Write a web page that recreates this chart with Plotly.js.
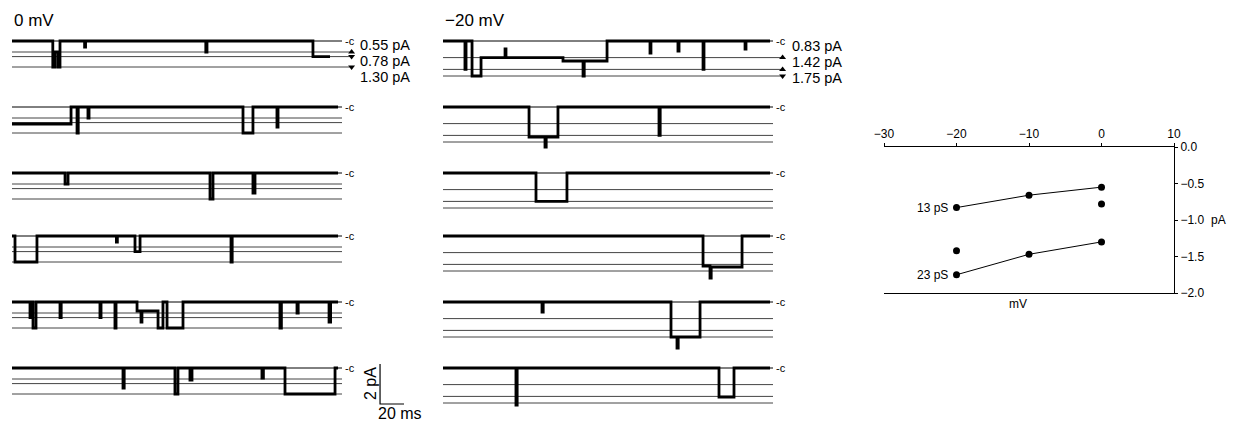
<!DOCTYPE html>
<html><head><meta charset="utf-8">
<script src="https://cdn.plot.ly/plotly-3.0.1.min.js"></script>
<style>html,body{margin:0;padding:0;background:#fff}#chart{width:1237px;height:421px}</style>
</head><body><div id="chart"></div>
<script>
// ---------------- data ----------------
// sub-conductance levels (pA) quoted on the figure
const levels0mV  = [0.55, 0.78, 1.30];
const levels20mV = [0.83, 1.42, 1.75];
const levelLabels0mV  = ['0.55 pA', '0.78 pA', '1.30 pA'];
const levelLabels20mV = ['0.83 pA', '1.42 pA', '1.75 pA'];

// idealised single-channel records: [time ms, current pA] steps (0 = closed)
const rec0mV_1 = [[0,0],[34,-1.30],[35.8,-0.55],[38.3,-1.30],[40,0],[60.5,-0.3],[61.3,0],[161.5,-0.55],[162.5,0],[250.8,-0.78],[265,-0.78]];
const rec0mV_2 = [[0,-0.85],[49.2,0],[54.2,-1.30],[55.2,0],[63.3,-0.55],[64.2,0],[192.5,-1.30],[200.8,0],[220.8,-1.0],[221.7,0],[271.7,0]];
const rec0mV_3 = [[0,0],[44.2,-0.55],[46.7,0],[165,-1.30],[167.5,0],[200.8,-1.0],[202.5,0],[271.7,0]];
const rec0mV_4 = [[0,0],[2.5,-1.30],[20.8,0],[87,-0.3],[87.8,0],[102.5,-0.78],[106.7,0],[182.5,-1.30],[183.5,0],[271.7,0]];
const rec0mV_5 = [[0,0],[15,-0.78],[16.7,0],[17.5,-1.30],[20,0],[40,-0.78],[41,0],[73.3,-0.78],[74.2,0],[85.8,-1.30],[86.7,0],[104.2,-0.45],[107.5,-1.0],[108.3,-0.45],[121.7,-1.30],[125.8,0],[129.2,-1.30],[142.5,0],[223.3,-1.30],[224.5,0],[237.5,-0.55],[238.5,0],[264.2,-1.0],[265.5,0],[271.7,0]];
const rec0mV_6 = [[0,0],[92.5,-1.0],[93.5,0],[135.8,-1.30],[138.3,0],[148.3,-0.6],[150,0],[208.3,-0.5],[209.5,0],[227.5,-1.30],[269.2,0],[271.7,0]];
const rec20mV_1 = [[0,0],[18.3,-1.42],[19.2,0],[24.2,-1.75],[31.7,-0.83],[51.7,-0.4],[52.5,-0.83],[100,-1.0],[116.7,-1.75],[117.7,-1.0],[136.7,0],[172.5,-0.6],[173.3,0],[195.8,-0.5],[196.7,0],[216.7,-1.42],[217.5,0],[251.7,-0.4],[252.5,0],[272.5,0]];
const rec20mV_2 = [[0,0],[71.7,-1.5],[85,-2.0],[86,-1.5],[95.8,0],[180,-1.42],[181,0],[272.5,0]];
const rec20mV_3 = [[0,0],[77.5,-1.42],[103.3,0],[272.5,0]];
const rec20mV_4 = [[0,0],[216.7,-1.5],[222.5,-2.1],[223.5,-1.55],[249.2,0],[272.5,0]];
const rec20mV_5 = [[0,0],[82.5,-0.5],[83.5,0],[190,-1.75],[195,-2.3],[196,-1.75],[214.2,0],[272.5,0]];
const rec20mV_6 = [[0,0],[60.8,-1.85],[61.8,0],[230,-1.45],[242.5,0],[272.5,0]];

// scale bar
const scaleTime = 20;   // ms
const scaleCurr = 2;    // pA

// current-voltage relation
const ivVoltage = [-20, -10, 0];
const iv13pS = [-0.83, -0.66, -0.55];
const iv23pS = [-1.75, -1.47, -1.30];
const ivExtraV = [0, -20];
const ivExtraI = [-0.78, -1.42];
const ivXTicks = [-30, -20, -10, 0, 10];
const ivYTicks = [0, -0.5, -1.0, -1.5, -2.0];

// ---------------- layout helpers ----------------
const W = 1237, H = 421;
const FONT = 'Liberation Sans, Arial, Helvetica, sans-serif';
const closedY = [41, 107, 173, 236, 302, 368];      // pixel row of closed level
const colX = [12, 443];                              // left px of each column
const msPx = 1.2, pAPx = 20;
const xRange = [0, 340], yRange = [-2.5, 0.5];

const data = [];
const layout = {
  width: W, height: H, margin: {l:0, r:0, t:0, b:0},
  paper_bgcolor: '#fff', plot_bgcolor: 'rgba(0,0,0,0)',
  showlegend: false, annotations: [], font: {family: FONT, color: '#000'}
};

const columns = [
  {recs: [rec0mV_1, rec0mV_2, rec0mV_3, rec0mV_4, rec0mV_5, rec0mV_6], levels: levels0mV, labels: levelLabels0mV,
   arrows: ['triangle-up', 'triangle-down', 'triangle-down'], title: '0 mV', labelY: [45, 61.2, 77.4], labelX: 359},
  {recs: [rec20mV_1, rec20mV_2, rec20mV_3, rec20mV_4, rec20mV_5, rec20mV_6], levels: levels20mV, labels: levelLabels20mV,
   arrows: ['triangle-up', 'triangle-up', 'triangle-down'], title: '−20 mV', labelY: [46, 62.2, 78.4], labelX: 791}
];

let k = 0;
columns.forEach((col, c) => {
  col.recs.forEach((rec, r) => {
    k++;
    const xa = 'x' + k, ya = 'y' + k;
    const x0 = colX[c], x1 = x0 + (xRange[1] - xRange[0]) * msPx;
    const top = closedY[r] - (yRange[1]) * pAPx, bot = closedY[r] - yRange[0] * pAPx;
    layout['xaxis' + k] = {domain: [x0 / W, x1 / W], range: xRange, visible: false, anchor: ya, fixedrange: true};
    layout['yaxis' + k] = {domain: [1 - bot / H, 1 - top / H], range: yRange, visible: false, anchor: xa, fixedrange: true};
    const lineEnd = r === 0 ? 283 : 275;
    // closed level
    data.push({type: 'scatter', mode: 'lines', x: [0, 275], y: [0, 0], xaxis: xa, yaxis: ya,
      line: {color: '#000', width: 1}, hoverinfo: 'skip'});
    // sub-conductance levels
    col.levels.forEach((lv, i) => {
      data.push({type: 'scatter', mode: 'lines', x: [0, lineEnd], y: [-lv, -lv], xaxis: xa, yaxis: ya,
        line: {color: '#444', width: 1}, hoverinfo: 'skip'});
      if (r === 0) {
        data.push({type: 'scatter', mode: 'markers', x: [lineEnd], y: [-lv], xaxis: xa, yaxis: ya,
          marker: {symbol: col.arrows[i], size: 6, color: '#000'}, hoverinfo: 'skip'});
      }
    });
    // the record itself
    data.push({type: 'scatter', mode: 'lines', x: rec.map(p => p[0]), y: rec.map(p => p[1]),
      xaxis: xa, yaxis: ya, line: {color: '#000', width: 2.8, shape: 'hv'}, hoverinfo: 'skip'});
    layout.annotations.push({xref: xa, yref: ya, x: 275.5, y: 0, text: '-c', showarrow: false,
      xanchor: 'left', yanchor: 'middle', font: {size: 11}});
    if (c === 0 && r === 5) {
      // scale bar
      const t0 = 306.7, i0 = -1.8;
      data.push({type: 'scatter', mode: 'lines', x: [t0, t0, t0 + scaleTime], y: [i0 + scaleCurr, i0, i0],
        xaxis: xa, yaxis: ya, line: {color: '#000', width: 1.2}, hoverinfo: 'skip'});
      layout.annotations.push({xref: xa, yref: ya, x: t0, y: i0 + scaleCurr / 2, xshift: -10, text: scaleCurr + ' pA',
        textangle: -90, showarrow: false, font: {size: 16}});
      layout.annotations.push({xref: xa, yref: ya, x: t0 + scaleTime / 2, y: i0, yshift: -9, xshift: 8, text: scaleTime + ' ms',
        showarrow: false, font: {size: 16}});
    }
  });
  layout.annotations.push({xref: 'paper', yref: 'paper', x: colX[c] / W, y: 1 - 20 / H, text: col.title,
    showarrow: false, xanchor: 'left', yanchor: 'middle', font: {size: 17}});
  col.labels.forEach((lab, i) => {
    layout.annotations.push({xref: 'paper', yref: 'paper', x: col.labelX / W, y: 1 - col.labelY[i] / H, text: lab,
      showarrow: false, xanchor: 'left', yanchor: 'middle', borderpad: 0, font: {size: 14.5}});
  });
});

// ---------------- I-V plot ----------------
const ivX0 = 884, ivX1 = 1174, ivY0 = 147, ivY1 = 293;
layout.xaxis13 = {domain: [ivX0 / W, ivX1 / W], range: [-30, 10], side: 'top', anchor: 'y13',
  showline: true, linecolor: '#000', linewidth: 1, mirror: true, ticks: 'outside', ticklen: 3, tickcolor: '#000',
  tickvals: ivXTicks, showgrid: false, zeroline: false, tickfont: {size: 12, color: '#000'}, fixedrange: true};
layout.yaxis13 = {domain: [1 - ivY1 / H, 1 - ivY0 / H], range: [-2, 0], side: 'right', anchor: 'x13',
  showline: true, linecolor: '#000', linewidth: 1, ticks: 'outside', ticklen: 3, tickcolor: '#000',
  tickvals: ivYTicks, tickformat: '.1f', showgrid: false, zeroline: false, tickfont: {size: 12, color: '#000'}, fixedrange: true};
[iv13pS, iv23pS].forEach(iv => {
  data.push({type: 'scatter', mode: 'lines+markers', x: ivVoltage, y: iv, xaxis: 'x13', yaxis: 'y13',
    line: {color: '#000', width: 1}, marker: {color: '#000', size: 7}, hoverinfo: 'skip', cliponaxis: false});
});
data.push({type: 'scatter', mode: 'markers', x: ivExtraV, y: ivExtraI, xaxis: 'x13', yaxis: 'y13',
  marker: {color: '#000', size: 7}, hoverinfo: 'skip', cliponaxis: false});
layout.annotations.push({xref: 'x13', yref: 'y13', x: ivVoltage[0], y: iv13pS[0], xshift: -7, text: '13 pS',
  showarrow: false, xanchor: 'right', yanchor: 'middle', font: {size: 12}});
layout.annotations.push({xref: 'x13', yref: 'y13', x: ivVoltage[0], y: iv23pS[0], xshift: -7, text: '23 pS',
  showarrow: false, xanchor: 'right', yanchor: 'middle', font: {size: 12}});
layout.annotations.push({xref: 'paper', yref: 'y13', x: 1209 / W, y: -1.0, text: 'pA',
  showarrow: false, xanchor: 'left', yanchor: 'middle', font: {size: 12}});
layout.annotations.push({xref: 'paper', yref: 'paper', x: 1018 / W, y: 1 - 304 / H, text: 'mV',
  showarrow: false, xanchor: 'center', yanchor: 'middle', font: {size: 12}});

Plotly.newPlot('chart', data, layout, {staticPlot: true, displayModeBar: false});
</script>
</body></html>
